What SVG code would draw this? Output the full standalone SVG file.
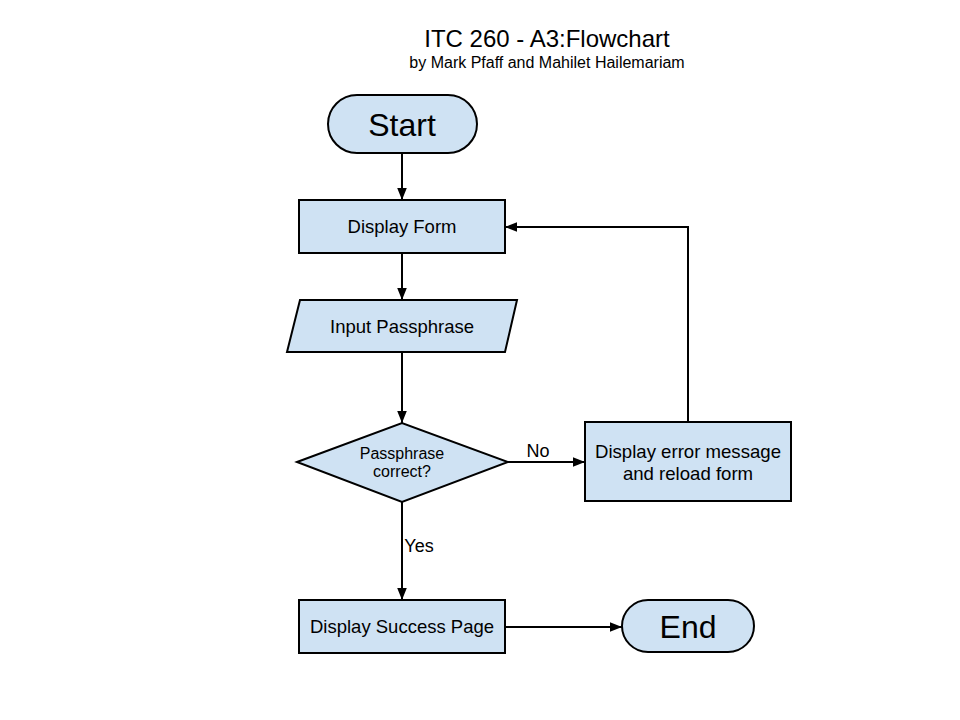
<svg xmlns="http://www.w3.org/2000/svg" width="960" height="720" viewBox="0 0 960 720">
<defs>
<marker id="ah" viewBox="0 0 10 10" refX="10" refY="5" markerWidth="12" markerHeight="12" markerUnits="userSpaceOnUse" orient="auto">
<path d="M0,1 L10,5 L0,9 Z" fill="#000"/>
</marker>
<style>
.n{fill:#cfe2f3;stroke:#000;stroke-width:2}
.t{font-family:"Liberation Sans",Arial,sans-serif;fill:#000;text-anchor:middle}
.c{fill:none;stroke:#000;stroke-width:2;marker-end:url(#ah)}
</style>
</defs>
<rect width="960" height="720" fill="#fff"/>
<text class="t" x="547" y="47" font-size="24">ITC 260 - A3:Flowchart</text>
<text class="t" x="547" y="68" font-size="16">by Mark Pfaff and Mahilet Hailemariam</text>
<g id="connectors">
<path class="c" d="M402,153 L402,200"/>
<path class="c" d="M402,253 L402,300"/>
<path class="c" d="M402,352 L402,423"/>
<path class="c" d="M508,462 L585,462"/>
<path class="c" d="M688,422 L688,227 L505,227"/>
<path class="c" d="M402,502 L402,600"/>
<path class="c" d="M505,627 L622,627"/>
<text class="t" x="538" y="457" font-size="18">No</text>
<text class="t" x="419" y="552" font-size="18">Yes</text>
</g>
<g id="start">
<rect class="n" x="328" y="95" width="149" height="58" rx="29"/>
<text class="t" x="402" y="136" font-size="32">Start</text>
</g>
<g id="display-form">
<rect class="n" x="299" y="200" width="206" height="53"/>
<text class="t" x="402" y="233" font-size="18.5">Display Form</text>
</g>
<g id="input-passphrase">
<polygon class="n" points="300,300 517,300 505,352 287,352"/>
<text class="t" x="402" y="333" font-size="18.5">Input Passphrase</text>
</g>
<g id="decision">
<polygon class="n" points="297,462 402,423 508,462 402,502"/>
<text class="t" x="402" y="459" font-size="16">Passphrase</text>
<text class="t" x="402" y="477" font-size="16">correct?</text>
</g>
<g id="error">
<rect class="n" x="585" y="422" width="206" height="79"/>
<text class="t" x="688" y="458" font-size="18.6">Display error message</text>
<text class="t" x="688" y="480" font-size="18.6">and reload form</text>
</g>
<g id="success">
<rect class="n" x="299" y="600" width="206" height="53"/>
<text class="t" x="402" y="633" font-size="18.5">Display Success Page</text>
</g>
<g id="end">
<rect class="n" x="622" y="600" width="132" height="52" rx="26"/>
<text class="t" x="688" y="638" font-size="32">End</text>
</g>
</svg>
